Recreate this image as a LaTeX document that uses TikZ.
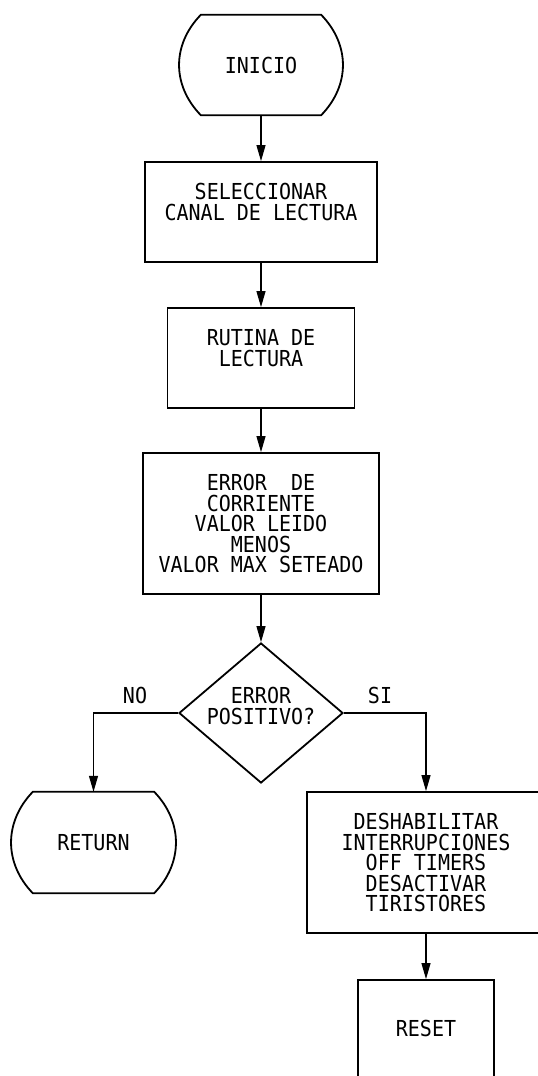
\documentclass[tikz,border=0pt]{standalone}
\usepackage{fontspec}
\newfontfamily\plotterfont[FakeStretch=0.91]{DejaVu Sans Mono}
\usetikzlibrary{arrows.meta,positioning,shapes.geometric}

\begin{document}
\begin{tikzpicture}[
      x=1pt,y=-1pt,
      every node/.style={font=\plotterfont\fontsize{22}{20.5}\selectfont},
      block/.style={draw=black,line width=1.8pt,align=center,inner sep=0pt},
      terminal/.style={align=center,inner sep=0pt,minimum width=120pt,minimum height=100pt},
      decision/.style={diamond,draw=black,line width=1.8pt,align=center,aspect=1.17,inner xsep=-5pt,inner ysep=0pt,
        minimum width=164pt,minimum height=140pt,text depth=14pt},
      tag/.style={inner sep=0pt},
      flow/.style={-{Triangle[length=16pt,width=9pt]},line width=1.1pt}
    ]
    \useasboundingbox (0,0) rectangle (538,1076);
    % main column
    \node[terminal] (inicio) at (261,65) {INICIO};
    \node[block,minimum width=232pt,minimum height=100pt,text depth=20pt] (sel) at (261,212)
      {SELECCIONAR\\CANAL DE LECTURA};
    \node[block,minimum width=187pt,minimum height=100pt,text depth=20pt] (rut) at (261,358)
      {RUTINA DE\\LECTURA};
    \node[block,minimum width=236pt,minimum height=141pt] (err) at (261,523.5)
      {ERROR~~DE\\CORRIENTE\\VALOR LEIDO\\MENOS\\VALOR MAX SETEADO};
    \node[decision] (dec) at (261,713) {ERROR\\POSITIVO?};
    \node[tag] (no) at (135,695) {NO};
    \node[tag] (si) at (380,695) {SI};
    % branches
    \node[terminal,minimum width=121pt,minimum height=101pt] (ret) at (93.5,842.5) {RETURN};
    \node[block,minimum width=238pt,minimum height=141pt] (desh) at (426,862.5)
      {DESHABILITAR\\INTERRUPCIONES\\OFF TIMERS\\DESACTIVAR\\TIRISTORES};
    \node[block,minimum width=136pt,minimum height=104pt,text depth=8pt] (reset) at (426,1032) {RESET};

    \foreach \nm in {inicio,ret}
      \draw[line width=1.8pt] (\nm.north west) -- (\nm.north east)
        .. controls +(29,30) and +(29,-30) .. (\nm.south east) -- (\nm.south west)
        .. controls +(-29,-30) and +(-29,30) .. (\nm.north west) -- cycle;

    \draw[flow] (inicio.south) -- (sel.north);
    \draw[flow] (sel.south) -- (rut.north);
    \draw[flow] (rut.south) -- (err.north);
    \draw[flow] (err.south) -- (dec.north);
    \draw[flow] (dec.west) -| (ret.north);
    \draw[flow] (dec.east) -| (desh.north);
    \draw[flow] (desh.south) -- (reset.north);
  \end{tikzpicture}
\end{document}
